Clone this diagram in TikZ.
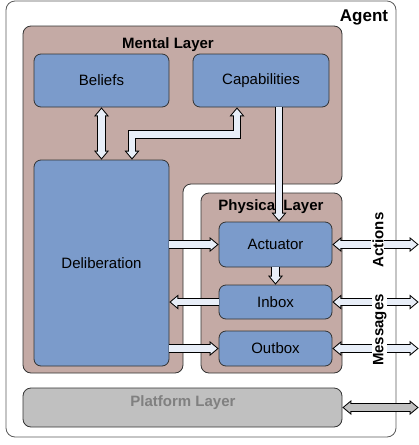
\documentclass[tikz,border=0pt]{standalone}
\usepackage{fontspec}
\setmainfont{Liberation Sans}
\usepackage{tikz}
\usetikzlibrary{arrows.meta,positioning,calc}
\definecolor{mentalbrown}{RGB}{196,170,165}
\definecolor{unitblue}{RGB}{123,155,203}
\definecolor{pipefill}{RGB}{232,238,248}
\definecolor{platgray}{RGB}{192,192,192}
\definecolor{plattext}{RGB}{128,128,128}
\definecolor{rimgray}{RGB}{90,90,90}
\tikzset{
  outerhead/.tip={Triangle[length=9pt,width=15pt,line width=0pt]},
  innerhead/.tip={Triangle[length=6.4pt,width=10.7pt,line width=0pt]},
  unit/.style={draw=black!80, fill=unitblue, rounded corners=7pt, line width=0.8pt,
    font=\fontsize{15}{18}\selectfont},
  layer/.style={draw=black!80, fill=mentalbrown, rounded corners=8pt, line width=0.8pt},
  title/.style={font=\fontsize{15}{18}\selectfont\bfseries, anchor=base, inner sep=0pt},
  pipe/.style={draw=#1, line width=6.5pt, line join=miter, shorten >=1.56pt, -innerhead,
    preaction={draw=black, line width=8.5pt, shorten >=0pt, -outerhead}},
  pipe/.default=pipefill,
  pipes/.style={draw=#1, line width=6.5pt, line join=miter, shorten >=1.56pt, shorten <=1.56pt,
    innerhead-innerhead,
    preaction={draw=black, line width=8.5pt, shorten >=0pt, shorten <=0pt, outerhead-outerhead}},
  pipes/.default=pipefill,
  side/.style={font=\fontsize{15}{18}\selectfont\bfseries, fill=white, inner sep=1pt,
    rotate=90, anchor=base},
}

\begin{document}
\begin{tikzpicture}[x=1pt,y=-1pt]
\useasboundingbox (0,0) rectangle (419,445);
% agent frame
\node[draw=rimgray, line width=0.8pt, rounded corners=9pt,
  minimum width=390pt, minimum height=436pt] (agent) at (201,219) {};
\node[title, font=\fontsize{17}{20}\selectfont\bfseries] (agentname) at (364,21) {Agent};

% mental layer (L shaped)
\draw[layer] (23,26) -- (342,26) -- (342,184) -- (183,184) -- (183,373) -- (23,373) -- cycle;
\node[title] (mentalname) at (168,48.3) {Mental Layer};
\node[unit, minimum width=135pt, minimum height=53pt] (beliefs) at (101.5,80.5) {Beliefs};
\node[unit, minimum width=136pt, minimum height=53pt] (capabilities) at (261,80.5) {Capabilities};
\node[unit, minimum width=135pt, minimum height=206pt] (deliberation) at (101.5,263) {Deliberation};

% physical layer
\node[layer, minimum width=141pt, minimum height=180pt] (physical) at (271.5,283) {};
\node[title] (physicalname) at (271,210.7) {Physical Layer};
\node[unit, minimum width=113pt, minimum height=45pt] (actuator) at (275.5,244.5) {Actuator};
\node[unit, minimum width=113pt, minimum height=34pt] (inbox) at (275.5,302) {Inbox};
\node[unit, minimum width=113pt, minimum height=35pt] (outbox) at (275.5,348.5) {Outbox};

% platform layer
\node[draw=black!80, fill=platgray, rounded corners=8pt, line width=0.8pt,
  minimum width=319pt, minimum height=39pt] (platform) at (182.5,407.5) {};
\node[title, text=plattext] (platformname) at (183,406.7) {Platform Layer};

\coordinate (rim) at (418.6,0);

% connectors
\draw[pipes] (beliefs.south) -- (deliberation.north);
\draw[pipes] ([xshift=-24pt]capabilities.south) -- ++(0,27) -| ([xshift=30.5pt]deliberation.north);
\draw[pipe] ([xshift=18pt]capabilities.south) -- ([xshift=18pt]capabilities.south |- actuator.north);
\draw[pipe] (deliberation.east |- actuator.west) -- (actuator.west);
\draw[pipe] (inbox.west) -- (deliberation.east |- inbox.west);
\draw[pipe] (deliberation.east |- outbox.west) -- (outbox.west);
\draw[pipe] (actuator.south) -- (inbox.north);
\draw[pipes] (actuator.east) -- (actuator.east -| rim);
\draw[pipes] (inbox.east) -- (inbox.east -| rim);
\draw[pipes] (outbox.east) -- (outbox.east -| rim);
\draw[pipes=platgray] (platform.east) -- (platform.east -| rim);

\node[side] (actions) at (383.3,240) {Actions};
\node[side] (messages) at (383.3,330) {Messages};
\end{tikzpicture}
\end{document}
